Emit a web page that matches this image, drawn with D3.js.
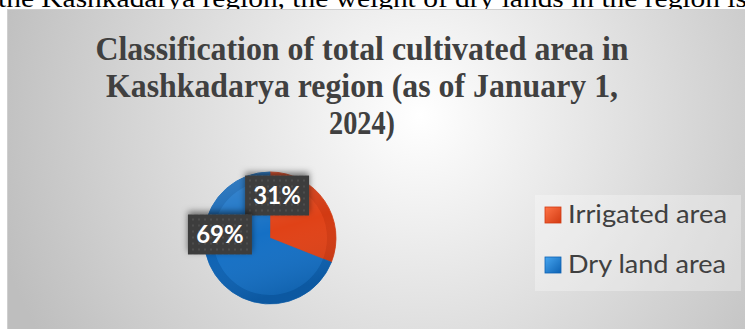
<!DOCTYPE html>
<html>
<head>
<meta charset="utf-8">
<script src="https://cdn.jsdelivr.net/npm/d3@7"></script>
<style>
  body { margin: 0; background: #fff; }
  svg { display: block; }
</style>
</head>
<body>
<svg id="chart"></svg>
<script>
// DATA
const categories = ["Irrigated area", "Dry land area"];
const shares = [31, 69];
const titleLines = [
  "Classification of total cultivated area in",
  "Kashkadarya region (as of January 1,",
  "2024)"
];
const bodyText = "the Kashkadarya region, the weight of dry lands in the region is";

const width = 745, height = 329;
const cx = 270, cy = 238, radius = 66;

const svg = d3.select("#chart").attr("width", width).attr("height", height);
const defs = svg.append("defs");

// background gradient
const bg = defs.append("radialGradient").attr("id", "bg")
  .attr("gradientUnits", "userSpaceOnUse")
  .attr("cx", 420).attr("cy", 115).attr("r", 440);
bg.append("stop").attr("offset", "0%").attr("stop-color", "#ffffff");
bg.append("stop").attr("offset", "100%").attr("stop-color", "#bebebe");

// slice colours
const palette = [
  { light: "#ff7447", mid: "#f24d1f", dark: "#d23a12" },
  { light: "#47a6f0", mid: "#1f82dc", dark: "#0d62b3" }
];
palette.forEach((p, i) => {
  const g = defs.append("radialGradient").attr("id", "slice" + i)
    .attr("gradientUnits", "userSpaceOnUse")
    .attr("cx", cx - 25).attr("cy", cy - 35).attr("r", radius * 1.7);
  g.append("stop").attr("offset", "0%").attr("stop-color", p.light);
  g.append("stop").attr("offset", "45%").attr("stop-color", p.mid);
  g.append("stop").attr("offset", "100%").attr("stop-color", p.dark);

  const lg = defs.append("linearGradient").attr("id", "key" + i)
    .attr("x1", 0).attr("y1", 0).attr("x2", 1).attr("y2", 1);
  lg.append("stop").attr("offset", "0%").attr("stop-color", p.light);
  lg.append("stop").attr("offset", "100%").attr("stop-color", p.dark);
});

// bevel overlay: lighter rim at top, darker rim at bottom
const bevel = defs.append("linearGradient").attr("id", "bevel")
  .attr("x1", 0).attr("y1", 0).attr("x2", 0.3).attr("y2", 1);
bevel.append("stop").attr("offset", "0%").attr("stop-color", "#fff").attr("stop-opacity", 0.2);
bevel.append("stop").attr("offset", "55%").attr("stop-color", "#fff").attr("stop-opacity", 0);
bevel.append("stop").attr("offset", "100%").attr("stop-color", "#000").attr("stop-opacity", 0.1);

// dot pattern for label boxes
const pat = defs.append("pattern").attr("id", "dots")
  .attr("patternUnits", "userSpaceOnUse").attr("width", 6).attr("height", 6);
pat.append("rect").attr("width", 6).attr("height", 6).attr("fill", "#3c3c3c");
pat.append("circle").attr("cx", 3).attr("cy", 3).attr("r", 0.9).attr("fill", "#565656");

const shadow = defs.append("filter").attr("id", "shadow")
  .attr("x", "-40%").attr("y", "-60%").attr("width", "180%").attr("height", "220%");
shadow.append("feDropShadow").attr("dx", 0).attr("dy", -3)
  .attr("stdDeviation", 3).attr("flood-color", "#000").attr("flood-opacity", 0.5);

// body text line above the chart (cut off by the page)
svg.append("text")
  .attr("x", -2).attr("y", 7)
  .attr("textLength", 749).attr("lengthAdjust", "spacingAndGlyphs")
  .style("font-family", "'Liberation Serif', 'Times New Roman', serif")
  .style("font-size", "26px")
  .attr("fill", "#000")
  .text(bodyText);

// chart area
svg.append("rect")
  .attr("x", 7.5).attr("y", 9.5).attr("width", width + 10).attr("height", height)
  .attr("fill", "url(#bg)").attr("stroke", "#cfcfcf");

// title
const titleWidths = [533, 512, 66];
svg.append("g").selectAll("text")
  .data(titleLines)
  .join("text")
  .attr("x", 362)
  .attr("y", (d, i) => 60 + i * 37)
  .attr("text-anchor", "middle")
  .attr("textLength", (d, i) => titleWidths[i])
  .attr("lengthAdjust", "spacingAndGlyphs")
  .style("font-family", "'Liberation Serif', 'Times New Roman', serif")
  .style("font-weight", "bold")
  .style("font-size", "33px")
  .attr("fill", "#404040")
  .text(d => d);

// pie
const pie = d3.pie().sort(null).value(d => d);
const arcs = pie(shares);
const arc = d3.arc().innerRadius(0).outerRadius(radius);
const innerArc = d3.arc().innerRadius(0).outerRadius(radius - 9);
const labelArc = d3.arc().innerRadius(40).outerRadius(40);

const sg = svg.append("g");
sg.selectAll("path.slice")
  .data(arcs)
  .join("path")
  .attr("class", "slice")
  .attr("transform", `translate(${cx},${cy})`)
  .attr("d", arc)
  .attr("fill", (d, i) => `url(#slice${i})`)
  .attr("stroke", (d, i) => palette[i].dark)
  .attr("stroke-width", 0.8);

// inner bevel shading
sg.selectAll("path.inner")
  .data(arcs)
  .join("path")
  .attr("class", "inner")
  .attr("transform", `translate(${cx},${cy})`)
  .attr("d", innerArc)
  .attr("fill", (d, i) => palette[i].mid)
  .attr("opacity", 0.45);

sg.append("circle")
  .attr("cx", cx).attr("cy", cy).attr("r", radius)
  .attr("fill", "url(#bevel)");

// data labels (nudged from the centroid, as in the original)
const total = d3.sum(shares);
const fmt = d3.format(".0%");
const nudge = [[-26, -20], [-17, -26]];
const boxW = 64, boxH = 40;

const lg = svg.append("g").attr("transform", `translate(${cx},${cy})`);
const lab = lg.selectAll("g.label")
  .data(arcs)
  .join("g")
  .attr("class", "label")
  .attr("transform", (d, i) => {
    const [x, y] = labelArc.centroid(d);
    return `translate(${x + nudge[i][0]},${y + nudge[i][1]})`;
  });
lab.append("rect")
  .attr("x", -boxW / 2).attr("y", -boxH / 2)
  .attr("width", boxW).attr("height", boxH)
  .attr("fill", "url(#dots)")
  .attr("filter", "url(#shadow)");
lab.append("text")
  .attr("text-anchor", "middle")
  .attr("y", 8.5)
  .attr("fill", "#fff")
  .style("font-family", "Lato, 'Open Sans', sans-serif")
  .style("font-weight", "bold")
  .style("font-size", "24px")
  .text(d => fmt(d.value / total));

// legend
svg.append("rect")
  .attr("x", 535).attr("y", 195).attr("width", 206).attr("height", 96)
  .attr("fill", "#fff").attr("opacity", 0.3);

const legend = svg.append("g").selectAll("g")
  .data(categories)
  .join("g")
  .attr("transform", (d, i) => `translate(545,${207 + i * 50})`);
legend.append("rect")
  .attr("width", 16).attr("height", 16)
  .attr("fill", (d, i) => `url(#key${i})`)
  .attr("stroke", (d, i) => palette[i].dark)
  .attr("stroke-width", 0.8);
legend.append("text")
  .attr("x", 23).attr("y", 16)
  .attr("textLength", (d, i) => i === 0 ? 159 : 158)
  .attr("lengthAdjust", "spacingAndGlyphs")
  .attr("fill", "#404040")
  .style("font-family", "Lato, 'Open Sans', sans-serif")
  .style("font-size", "25px")
  .text(d => d);
</script>
</body>
</html>
